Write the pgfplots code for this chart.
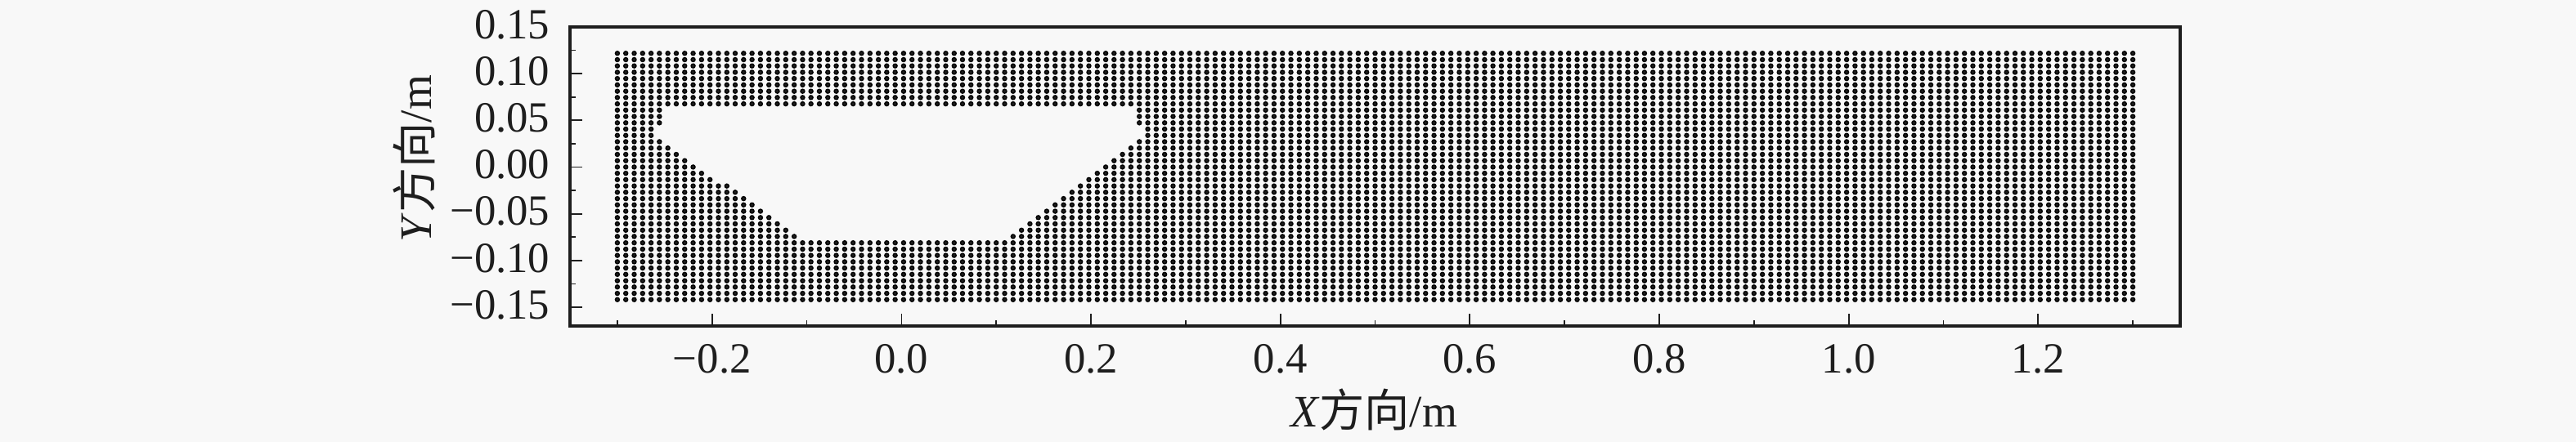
\documentclass[border=0pt]{standalone}
\usepackage{fontspec}
\setmainfont{Liberation Serif}
\newfontfamily\cjk{Noto Sans CJK SC}
\usepackage{pgfplots}
\usepackage{pgfplotstable}
\pgfplotsset{compat=1.18}
\definecolor{pagebg}{RGB}{248,248,248}
\definecolor{ink}{RGB}{30,30,30}

% x positions of the 181 point columns
\pgfplotstableread[row sep=\\]{
x\\
-0.3000\\-0.2911\\-0.2822\\-0.2733\\-0.2644\\-0.2556\\-0.2467\\-0.2378\\-0.2289\\
-0.2200\\-0.2111\\-0.2022\\-0.1933\\-0.1844\\-0.1756\\-0.1667\\-0.1578\\-0.1489\\
-0.1400\\-0.1311\\-0.1222\\-0.1133\\-0.1044\\-0.0956\\-0.0867\\-0.0778\\-0.0689\\
-0.0600\\-0.0511\\-0.0422\\-0.0333\\-0.0244\\-0.0156\\-0.0067\\0.0022\\0.0111\\
0.0200\\0.0289\\0.0378\\0.0467\\0.0556\\0.0644\\0.0733\\0.0822\\0.0911\\
0.1000\\0.1089\\0.1178\\0.1267\\0.1356\\0.1444\\0.1533\\0.1622\\0.1711\\
0.1800\\0.1889\\0.1978\\0.2067\\0.2156\\0.2244\\0.2333\\0.2422\\0.2511\\
0.2600\\0.2689\\0.2778\\0.2867\\0.2956\\0.3044\\0.3133\\0.3222\\0.3311\\
0.3400\\0.3489\\0.3578\\0.3667\\0.3756\\0.3844\\0.3933\\0.4022\\0.4111\\
0.4200\\0.4289\\0.4378\\0.4467\\0.4556\\0.4644\\0.4733\\0.4822\\0.4911\\
0.5000\\0.5089\\0.5178\\0.5267\\0.5356\\0.5444\\0.5533\\0.5622\\0.5711\\
0.5800\\0.5889\\0.5978\\0.6067\\0.6156\\0.6244\\0.6333\\0.6422\\0.6511\\
0.6600\\0.6689\\0.6778\\0.6867\\0.6956\\0.7044\\0.7133\\0.7222\\0.7311\\
0.7400\\0.7489\\0.7578\\0.7667\\0.7756\\0.7844\\0.7933\\0.8022\\0.8111\\
0.8200\\0.8289\\0.8378\\0.8467\\0.8556\\0.8644\\0.8733\\0.8822\\0.8911\\
0.9000\\0.9089\\0.9178\\0.9267\\0.9356\\0.9444\\0.9533\\0.9622\\0.9711\\
0.9800\\0.9889\\0.9978\\1.0067\\1.0156\\1.0244\\1.0333\\1.0422\\1.0511\\
1.0600\\1.0689\\1.0778\\1.0867\\1.0956\\1.1044\\1.1133\\1.1222\\1.1311\\
1.1400\\1.1489\\1.1578\\1.1667\\1.1756\\1.1844\\1.1933\\1.2022\\1.2111\\
1.2200\\1.2289\\1.2378\\1.2467\\1.2556\\1.2644\\1.2733\\1.2822\\1.2911\\
1.3000\\
}\xs

\begin{document}
\begin{tikzpicture}[x=1cm,y=1cm]
  % page is 3150x541 px at 0.01 cm per px, axis box at (697,33)-(2666,399)
  \fill[pagebg] (-6.97,-1.42) rectangle (24.53,3.99);
  \useasboundingbox (-6.97,-1.42) rectangle (24.53,3.99);
  \begin{axis}[
    at={(0,0)}, anchor=south west,
    scale only axis,
    width=19.69cm, height=3.66cm,
    xmin=-0.35, xmax=1.35,
    ymin=-0.17, ymax=0.15,
    axis background/.style={fill=pagebg},
    axis line style={ink, line width=1pt},
    tick pos=left,
    tick align=inside,
    xtick={-0.2,0,0.2,0.4,0.6,0.8,1.0,1.2},
    xticklabels={−0.2,0.0,0.2,0.4,0.6,0.8,1.0,1.2},
    minor xtick={-0.3,-0.1,0.1,0.3,0.5,0.7,0.9,1.1,1.3},
    ytick={-0.15,-0.1,-0.05,0,0.05,0.1,0.15},
    yticklabels={−0.15,−0.10,−0.05,0.00,0.05,0.10,0.15},
    minor ytick={-0.125,-0.075,-0.025,0.025,0.075,0.125},
    major tick length=0.15cm,
    minor tick length=0.07cm,
    tick style={ink, line width=0.5pt},
    tick label style={font=\fontsize{15}{18}\selectfont, text=ink},
    xticklabel style={anchor=base, yshift=-0.58cm},
    yticklabel style={anchor=east, inner sep=0pt, xshift=-0.24cm, yshift=0.03cm},
    every axis x label/.style={at={(axis description cs:0.4993,0)}, anchor=base, yshift=-1.24cm},
    every axis y label/.style={at={(axis description cs:0,0.56)}, rotate=90, anchor=base, yshift=1.69cm},
    label style={font=\fontsize{15.7}{19}\selectfont, text=ink},
    xlabel={\textit{X}{\cjk 方向}/m},
    ylabel={\textit{Y}{\cjk 方向}/m},
    table/y index=0,
    dot/.style={only marks, mark=*, mark size=0.7pt, mark options={draw=none, fill=ink}},
  ]
  % one series per row of points, top row first; skipped indices form the cut-out
  \addplot[dot] table[x=x, y expr=0.1218] {\xs};
  \addplot[dot] table[x=x, y expr=0.1150] {\xs};
  \addplot[dot] table[x=x, y expr=0.1083] {\xs};
  \addplot[dot] table[x=x, y expr=0.1015] {\xs};
  \addplot[dot] table[x=x, y expr=0.0948] {\xs};
  \addplot[dot] table[x=x, y expr=0.0880] {\xs};
  \addplot[dot] table[x=x, y expr=0.0812] {\xs};
  \addplot[dot] table[x=x, y expr=0.0745] {\xs};
  \addplot[dot] table[x=x, y expr=0.0677] {\xs};
  \addplot[dot, skip coords between index={6}{62}] table[x=x, y expr=0.0610] {\xs};
  \addplot[dot, skip coords between index={6}{62}] table[x=x, y expr=0.0542] {\xs};
  \addplot[dot, skip coords between index={6}{62}] table[x=x, y expr=0.0474] {\xs};
  \addplot[dot, skip coords between index={5}{63}] table[x=x, y expr=0.0407] {\xs};
  \addplot[dot, skip coords between index={5}{63}] table[x=x, y expr=0.0339] {\xs};
  \addplot[dot, skip coords between index={6}{62}] table[x=x, y expr=0.0272] {\xs};
  \addplot[dot, skip coords between index={7}{61}] table[x=x, y expr=0.0204] {\xs};
  \addplot[dot, skip coords between index={8}{60}] table[x=x, y expr=0.0136] {\xs};
  \addplot[dot, skip coords between index={9}{59}] table[x=x, y expr=0.0069] {\xs};
  \addplot[dot, skip coords between index={10}{58}] table[x=x, y expr=0.0001] {\xs};
  \addplot[dot, skip coords between index={11}{57}] table[x=x, y expr=-0.0066] {\xs};
  \addplot[dot, skip coords between index={12}{56}] table[x=x, y expr=-0.0134] {\xs};
  \addplot[dot, skip coords between index={14}{55}] table[x=x, y expr=-0.0202] {\xs};
  \addplot[dot, skip coords between index={15}{54}] table[x=x, y expr=-0.0269] {\xs};
  \addplot[dot, skip coords between index={16}{53}] table[x=x, y expr=-0.0337] {\xs};
  \addplot[dot, skip coords between index={17}{52}] table[x=x, y expr=-0.0404] {\xs};
  \addplot[dot, skip coords between index={18}{51}] table[x=x, y expr=-0.0472] {\xs};
  \addplot[dot, skip coords between index={19}{50}] table[x=x, y expr=-0.0540] {\xs};
  \addplot[dot, skip coords between index={20}{49}] table[x=x, y expr=-0.0607] {\xs};
  \addplot[dot, skip coords between index={21}{48}] table[x=x, y expr=-0.0675] {\xs};
  \addplot[dot, skip coords between index={22}{47}] table[x=x, y expr=-0.0742] {\xs};
  \addplot[dot] table[x=x, y expr=-0.0810] {\xs};
  \addplot[dot] table[x=x, y expr=-0.0878] {\xs};
  \addplot[dot] table[x=x, y expr=-0.0945] {\xs};
  \addplot[dot] table[x=x, y expr=-0.1013] {\xs};
  \addplot[dot] table[x=x, y expr=-0.1080] {\xs};
  \addplot[dot] table[x=x, y expr=-0.1148] {\xs};
  \addplot[dot] table[x=x, y expr=-0.1216] {\xs};
  \addplot[dot] table[x=x, y expr=-0.1283] {\xs};
  \addplot[dot] table[x=x, y expr=-0.1351] {\xs};
  \addplot[dot] table[x=x, y expr=-0.1418] {\xs};
  \end{axis}
\end{tikzpicture}
\end{document}
